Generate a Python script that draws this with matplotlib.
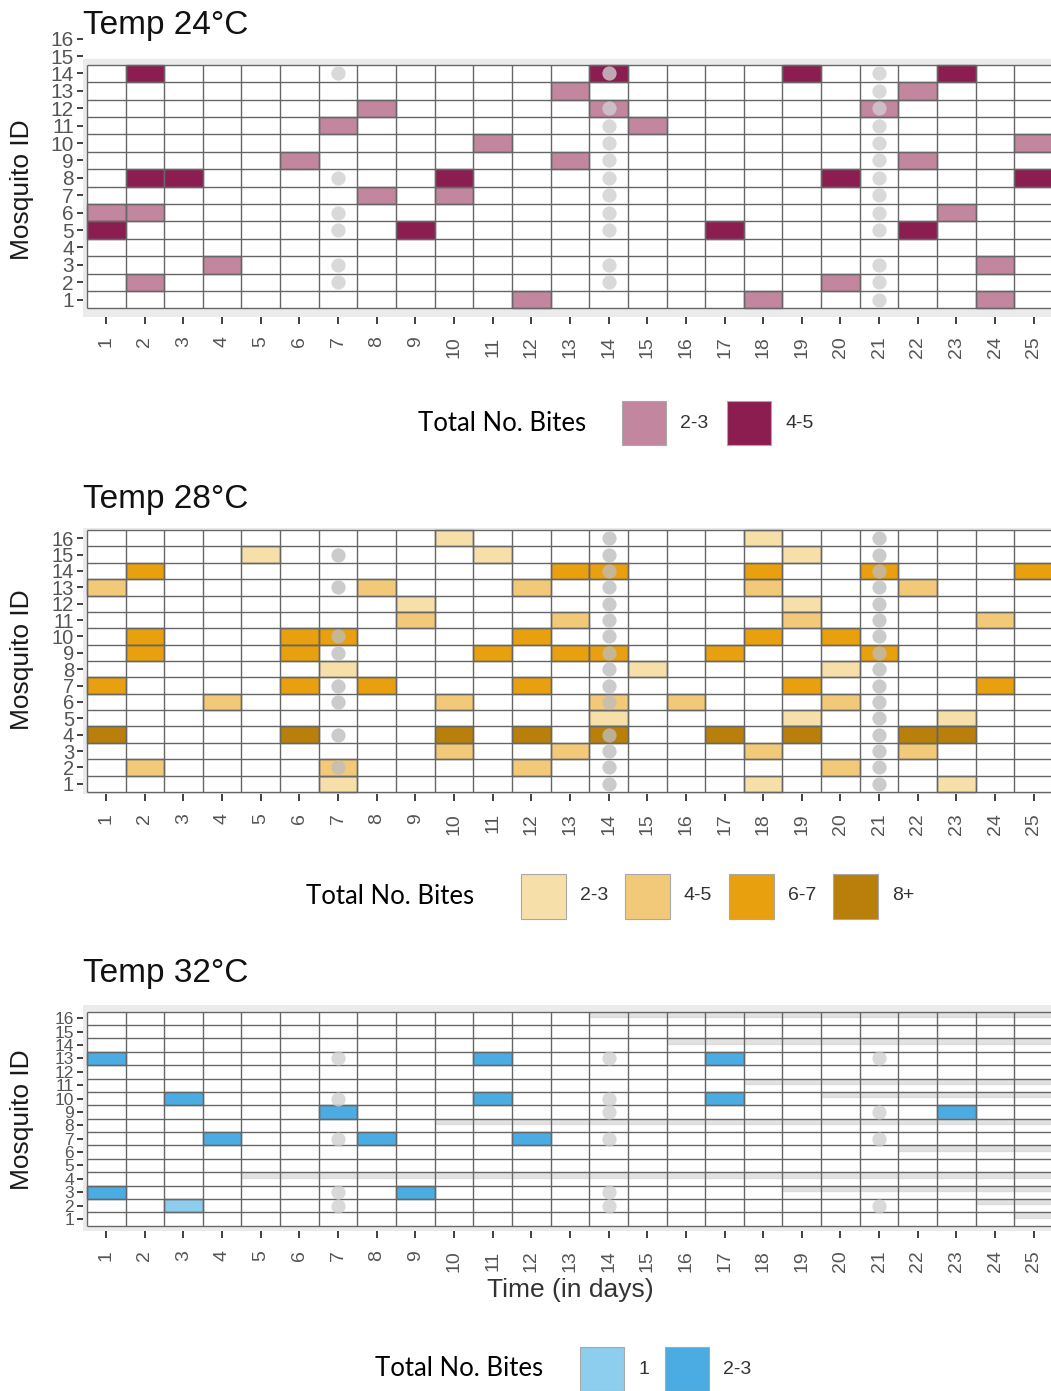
import numpy as np
import matplotlib
matplotlib.use("Agg")
import matplotlib.pyplot as plt
from matplotlib.patches import Rectangle

plt.rcParams['font.family'] = ['Liberation Sans', 'DejaVu Sans']

days = list(range(1, 26))
mosq_ids = list(range(1, 17))

# Temp 24 C  -- (day, mosquito id)
t24_bites_2_3 = [(1, 6), (2, 6), (2, 2), (4, 3), (6, 9), (7, 11), (8, 12), (8, 7), (10, 7),
                 (11, 10), (12, 1), (13, 13), (13, 9), (14, 12), (15, 11), (18, 1), (20, 2),
                 (21, 12), (22, 13), (22, 9), (23, 6), (24, 3), (24, 1), (25, 10)]
t24_bites_4_5 = [(1, 5), (2, 14), (2, 8), (3, 8), (9, 5), (10, 8), (14, 14), (17, 5),
                 (19, 14), (20, 8), (22, 5), (23, 14), (25, 8)]
t24_dots = {7: [14, 8, 6, 5, 3, 2],
            14: [14, 12, 11, 10, 9, 8, 7, 6, 5, 3, 2],
            21: [14, 13, 12, 11, 10, 9, 8, 7, 6, 5, 3, 2, 1]}

# Temp 28 C
t28_bites_2_3 = [(10, 16), (5, 15), (11, 15), (9, 12), (7, 8), (7, 1), (18, 16), (19, 15),
                 (19, 12), (15, 8), (20, 8), (14, 5), (19, 5), (23, 5), (18, 1), (23, 1)]
t28_bites_4_5 = [(1, 13), (8, 13), (12, 13), (18, 13), (22, 13), (9, 11), (13, 11), (19, 11),
                 (24, 11), (4, 6), (10, 6), (14, 6), (16, 6), (20, 6), (10, 3), (13, 3),
                 (18, 3), (22, 3), (2, 2), (7, 2), (12, 2), (20, 2)]
t28_bites_6_7 = [(2, 14), (13, 14), (14, 14), (18, 14), (21, 14), (25, 14), (2, 10), (6, 10),
                 (7, 10), (12, 10), (18, 10), (20, 10), (2, 9), (6, 9), (11, 9), (13, 9),
                 (14, 9), (17, 9), (21, 9), (1, 7), (6, 7), (8, 7), (12, 7), (19, 7), (24, 7)]
t28_bites_8p = [(1, 4), (6, 4), (10, 4), (12, 4), (14, 4), (17, 4), (19, 4), (22, 4), (23, 4)]
t28_dots = {7: [15, 13, 10, 9, 7, 6, 4, 2],
            14: [16, 15, 14, 13, 12, 11, 10, 9, 8, 7, 6, 4, 3, 2, 1],
            21: list(range(1, 17))}

# Temp 32 C
t32_bites_1 = [(3, 2)]
t32_bites_2_3 = [(1, 13), (11, 13), (17, 13), (3, 10), (11, 10), (17, 10), (7, 9), (23, 9),
                 (4, 7), (8, 7), (12, 7), (1, 3), (9, 3)]
t32_dots = {7: [13, 10, 7, 3, 2],
            14: [13, 10, 9, 7, 3, 2],
            21: [13, 9, 7, 2]}
# faint grey bands (row boundary, first day) seen in the 32 C panel
t32_bands = [(16.5, 14), (14.5, 16), (11.5, 18), (10.5, 20), (8.5, 10), (6.5, 22),
             (4.5, 5), (3.5, 19), (2.5, 24), (1.5, 25)]

W, H = 1051, 1391
fig = plt.figure(figsize=(W / 100, H / 100), dpi=100)
GRID = '#666666'


def px_axes(l, t, r, b):
    return fig.add_axes([l / W, 1 - b / H, (r - l) / W, (b - t) / H])


def draw_panel(ax, nrows, ylim, layers, dots, dot_col, ylab_size, bands=None, top_strip=None):
    ax.set_xlim(0.4, 25.5)
    ax.set_ylim(*ylim)
    ax.set_facecolor('white')
    # grey panel background around the tiles
    y0 = ylim[0]
    ytop = top_strip if top_strip else ylim[1]
    ax.add_patch(Rectangle((0.4, y0), 25.1, ytop - y0, color='#EBEBEB', zorder=0))
    ax.add_patch(Rectangle((0.5, 0.5), 25, nrows, color='white', zorder=0.5))
    for cells, col in layers:
        d = [c[0] for c in cells]
        m = [c[1] for c in cells]
        ax.bar(d, 1, bottom=np.array(m) - 0.5, width=1, color=col,
               edgecolor=GRID, linewidth=1.0, zorder=2)
    if bands:
        for yb, d0 in bands:
            ax.add_patch(Rectangle((d0 - 0.5, yb - 0.4), 25.5 - (d0 - 0.5), 0.4,
                                   color='#D0D0D0', alpha=0.6, zorder=2.5))
    ax.hlines(np.arange(0.5, nrows + 1), 0.5, 25.5, color=GRID, lw=1.0, zorder=3)
    ax.vlines(np.arange(0.5, 26), 0.5, nrows + 0.5, color=GRID, lw=1.0, zorder=3)
    for d, ids in dots.items():
        ax.scatter([d] * len(ids), ids, s=105, color=dot_col, alpha=0.78,
                   linewidths=0, zorder=4)
    for s in ax.spines.values():
        s.set_visible(False)
    ax.set_xticks(days)
    ax.set_xticklabels([str(d) for d in days], rotation=90, fontsize=14, color='#555555')
    ax.set_yticks(mosq_ids)
    ax.set_yticklabels([str(i) for i in mosq_ids], fontsize=ylab_size, color='#555555')
    ax.tick_params(axis='x', length=5, width=1.3, color='#333333', pad=9)
    ax.tick_params(axis='y', length=4.5, width=1.3, color='#333333', pad=2)


ax1 = px_axes(83, 30, 1053, 317)
draw_panel(ax1, 14, (0.0, 16.5),
           [(t24_bites_2_3, '#C3869F'), (t24_bites_4_5, '#8B1D51')],
           t24_dots, '#CFCFCF', 15, top_strip=14.85)

ax2 = px_axes(83, 528.4, 1053, 793.6)
draw_panel(ax2, 16, (0.4, 16.6),
           [(t28_bites_2_3, '#F6DFA8'), (t28_bites_4_5, '#F2C978'),
            (t28_bites_6_7, '#E8A00E'), (t28_bites_8p, '#B87F0A')],
           t28_dots, '#BDBDBD', 14.5)

ax3 = px_axes(83, 1005, 1053, 1231)
draw_panel(ax3, 16, (0.1, 17.0),
           [(t32_bites_1, '#8DCDEE'), (t32_bites_2_3, '#4AACE2')],
           t32_dots, '#CFCFCF', 12.5, bands=t32_bands)

# titles and axis labels
for ybase, txt in [(34, 'Temp 24°C'), (508, 'Temp 28°C'), (982, 'Temp 32°C')]:
    fig.text(83 / W, 1 - ybase / H, txt, fontsize=24, va='baseline', ha='left', color='#111111')
for yc in [190, 660, 1120]:
    fig.text(22 / W, 1 - yc / H, 'Mosquito ID', rotation=90, fontsize=19,
             va='center', ha='center', color='#1A1A1A')
fig.text(570 / W, 1 - 1290 / H, 'Time (in days)', fontsize=19, ha='center', va='center',
         color='#333333')

# legends
legend_24 = (['2-3', '4-5'], ['#C3869F', '#8B1D51'])
legend_28 = (['2-3', '4-5', '6-7', '8+'], ['#F6DFA8', '#F2C978', '#E8A00E', '#B87F0A'])
legend_32 = (['1', '2-3'], ['#8DCDEE', '#4AACE2'])


def draw_legend(tx, yc, sx, step, size, labels, colors):
    fig.text(tx / W, 1 - yc / H, 'Total No. Bites', fontsize=18.5, family=['Lato', 'DejaVu Sans'],
             va='center', ha='left', color='black')
    for i, (lab, col) in enumerate(zip(labels, colors)):
        x0 = sx + i * step
        fig.patches.append(Rectangle((x0 / W, 1 - (yc + size / 2) / H), size / W, size / H,
                                     transform=fig.transFigure, facecolor=col,
                                     edgecolor='#A8A8A8', linewidth=0.8))
        fig.text((x0 + size + 14) / W, 1 - yc / H, lab, fontsize=14, color='#333333',
                 va='center', ha='left')


draw_legend(418, 423, 622, 105, 44, *legend_24)
draw_legend(306, 896, 521, 104, 45, *legend_28)
draw_legend(375, 1369, 580, 85, 44, *legend_32)

fig.savefig('out.png', dpi=100)
